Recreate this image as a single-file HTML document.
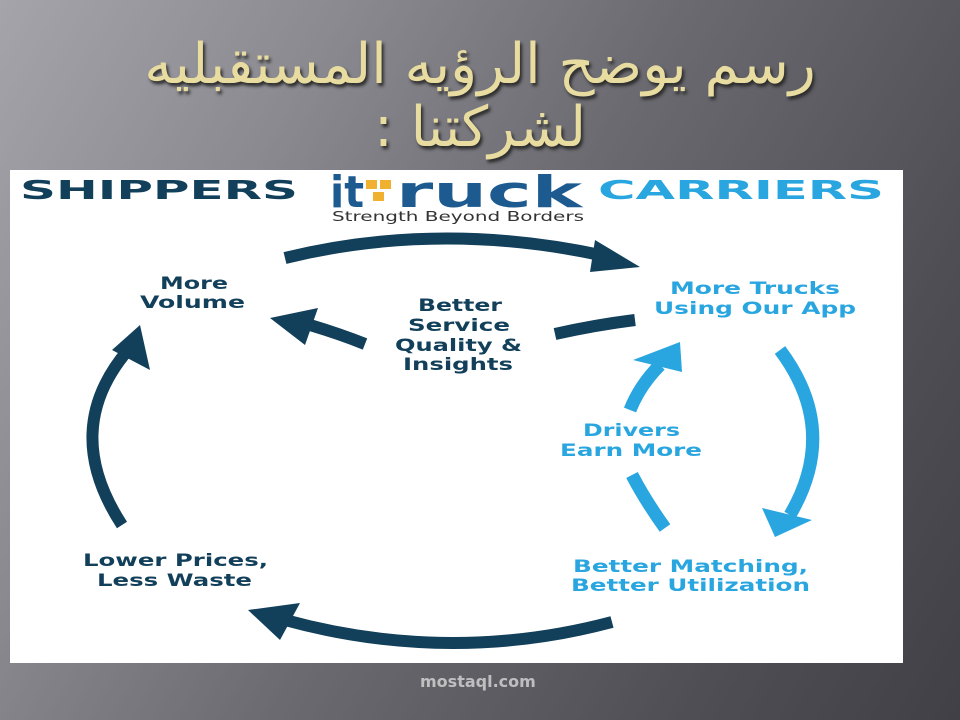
<!DOCTYPE html>
<html><head><meta charset="utf-8"><style>
html,body{margin:0;padding:0;width:960px;height:720px;overflow:hidden}
body{background:linear-gradient(120deg,#a4a4aa 0%,#8a8a90 25%,#6a6a70 50%,#4e4e54 80%,#404046 100%);position:relative;font-family:"DejaVu Sans","Liberation Sans",sans-serif}
.t{position:absolute;left:0;width:960px;text-align:center;color:#e8dca0;font-family:"DejaVu Sans","Liberation Sans",sans-serif;font-size:56px;line-height:60px;text-shadow:2px 3px 3px #2a2a2a;direction:rtl}
.panel{position:absolute;left:10px;top:170px;width:893px;height:493px;background:#fff}
.wm{position:absolute;left:420px;top:672px;color:#d8d8d8;font-size:16px;font-weight:bold;opacity:.8}
</style></head><body>
<div class="t" style="top:35px">رسم يوضح الرؤيه المستقبليه</div>
<div class="t" style="top:98px">لشركتنا :</div>
<div class="panel"></div>
<svg width="960" height="720" style="position:absolute;left:0;top:0" font-family="DejaVu Sans" font-weight="bold">
<text x="20" y="199" font-size="26" fill="#123f5a" textLength="278" lengthAdjust="spacingAndGlyphs">SHIPPERS</text>
<text x="598" y="199" font-size="26" fill="#29a6df" textLength="286" lengthAdjust="spacingAndGlyphs">CARRIERS</text>
<text x="330" y="207" font-size="44" fill="#1d5a8f" textLength="34" lengthAdjust="spacingAndGlyphs">it</text>
<text x="396" y="207" font-size="44" fill="#1d5a8f" textLength="186" lengthAdjust="spacingAndGlyphs">ruck</text>
<rect x="366" y="180" width="11" height="9" fill="#f0b030"/><rect x="380" y="180" width="11" height="9" fill="#f0b030"/><rect x="373" y="192" width="11" height="9" fill="#f0b030"/>
<text x="332" y="221" font-size="13" font-weight="normal" fill="#333" textLength="252" lengthAdjust="spacingAndGlyphs">Strength Beyond Borders</text>
<g fill="none" stroke="#123f5a" stroke-width="12">
<path d="M285,258 Q440,220 605,256"/>
<path d="M635,320 Q595,325 555,334"/>
<path d="M365,344 Q340,334 310,325"/>
<path d="M122,525 Q60,430 128,350"/>
<path d="M612,622 Q450,665 285,620"/>
</g>
<g fill="#123f5a">
<polygon points="640,267 595,240 590,272"/>
<polygon points="270,318 318,308 305,345"/>
<polygon points="140,325 150,370 112,350"/>
<polygon points="248,610 300,603 280,640"/>
</g>
<g fill="none" stroke="#29a6df" stroke-width="13">
<path d="M665,528 Q645,500 632,475"/>
<path d="M630,410 Q640,385 660,365"/>
<path d="M780,350 Q840,430 790,515"/>
</g>
<g fill="#29a6df">
<polygon points="680,342 682,372 633,360"/>
<polygon points="775,537 762,508 812,520"/>
</g>
<g font-size="17" fill="#123f5a">
<text x="160" y="289" textLength="68" lengthAdjust="spacingAndGlyphs">More</text>
<text x="140" y="308" textLength="105" lengthAdjust="spacingAndGlyphs">Volume</text>
<text x="418" y="311" textLength="84" lengthAdjust="spacingAndGlyphs">Better</text>
<text x="408" y="331" textLength="102" lengthAdjust="spacingAndGlyphs">Service</text>
<text x="395" y="351" textLength="127" lengthAdjust="spacingAndGlyphs">Quality &amp;</text>
<text x="403" y="370" textLength="110" lengthAdjust="spacingAndGlyphs">Insights</text>
<text x="83" y="566" textLength="185" lengthAdjust="spacingAndGlyphs">Lower Prices,</text>
<text x="97" y="586" textLength="155" lengthAdjust="spacingAndGlyphs">Less Waste</text>
</g>
<g font-size="17" fill="#29a6df">
<text x="670" y="294" textLength="170" lengthAdjust="spacingAndGlyphs">More Trucks</text>
<text x="654" y="314" textLength="202" lengthAdjust="spacingAndGlyphs">Using Our App</text>
<text x="583" y="436" textLength="97" lengthAdjust="spacingAndGlyphs">Drivers</text>
<text x="560" y="456" textLength="142" lengthAdjust="spacingAndGlyphs">Earn More</text>
<text x="573" y="572" textLength="235" lengthAdjust="spacingAndGlyphs">Better Matching,</text>
<text x="571" y="591" textLength="239" lengthAdjust="spacingAndGlyphs">Better Utilization</text>
</g>
</svg>
<div class="wm">mostaql.com</div>
</body></html>
